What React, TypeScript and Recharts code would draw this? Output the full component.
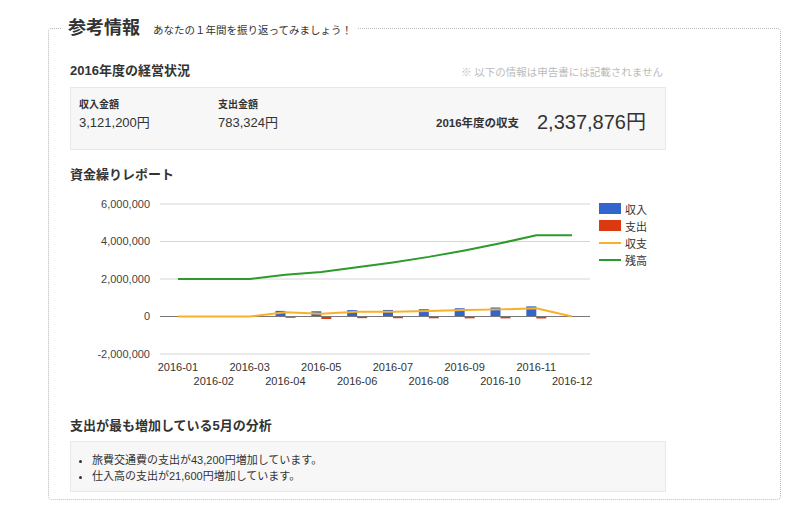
import React from 'react';
import { ComposedChart, Bar, Line, XAxis, YAxis, CartesianGrid, ReferenceLine, Legend } from 'recharts';

const months = ['2016-01', '2016-02', '2016-03', '2016-04', '2016-05', '2016-06', '2016-07', '2016-08', '2016-09', '2016-10', '2016-11', '2016-12'];
const income = [0, 0, 0, 300000, 280000, 340000, 350000, 390000, 440000, 480000, 541200, 0];
const expense = [0, 0, 0, 70000, 134800, 88000, 92000, 95000, 98000, 100000, 105524, 0];
const net = [0, 0, 0, 230000, 145200, 252000, 258000, 295000, 342000, 380000, 435676, 0];
const balance = [2000000, 2000000, 2000000, 2230000, 2375200, 2627200, 2885200, 3180200, 3522200, 3902200, 4337876, 4337876];
const yTicks = [-2000000, 0, 2000000, 4000000, 6000000];
const legendOrder = ['収入', '支出', '収支', '残高'];

const data = months.map((m, i) => ({
  month: m,
  income: income[i],
  expense: -expense[i],
  net: net[i],
  balance: balance[i],
}));

const FONT = '"Liberation Sans", "Noto Sans CJK JP", sans-serif';

const MonthTick = (props: any) => {
  const { x, y, payload, index } = props;
  return (
    <text x={x} y={y} dy={index % 2 ? 31 : 17} textAnchor="middle" fontSize={11} fill="#333">
      {payload.value}
    </text>
  );
};

const ChartLegend = (props: any) => {
  const items = [...(props.payload || [])].sort(
    (a: any, b: any) => legendOrder.indexOf(a.value) - legendOrder.indexOf(b.value)
  );
  return (
    <div style={{ fontSize: 11, color: '#333' }}>
      {items.map((it: any) => (
        <div key={it.value} style={{ display: 'flex', alignItems: 'center', height: 17 }}>
          {it.type === 'rect' ? (
            <span style={{ display: 'inline-block', width: 22, height: 11, background: it.color }} />
          ) : (
            <span style={{ display: 'inline-block', width: 22, height: 2, background: it.color }} />
          )}
          <span style={{ marginLeft: 4 }}>{it.value}</span>
        </div>
      ))}
    </div>
  );
};

const heading: React.CSSProperties = { position: 'absolute', fontSize: 13, fontWeight: 'bold', color: '#333', lineHeight: '16px' };

export default function App() {
  return (
    <div style={{ position: 'absolute', left: 0, top: 0, width: 800, height: 522, background: '#fff', fontFamily: FONT, color: '#333' }}>
      <div style={{ position: 'absolute', left: 48, top: 28, width: 731, height: 470, border: '1px dotted #bbb', borderRadius: 4 }} />
      <div style={{ position: 'absolute', left: 62, top: 16, padding: '0 6px', background: '#fff', whiteSpace: 'nowrap', lineHeight: '24px' }}>
        <span style={{ fontSize: 18, fontWeight: 'bold', color: '#333' }}>参考情報</span>
        <span style={{ fontSize: 10.5, marginLeft: 13, color: '#333' }}>あなたの１年間を振り返ってみましょう！</span>
      </div>

      <div style={{ ...heading, left: 70, top: 63 }}>2016年度の経営状況</div>
      <div style={{ position: 'absolute', right: 137, top: 64, fontSize: 10.5, color: '#bbb', lineHeight: '16px' }}>※ 以下の情報は申告書には記載されません</div>

      <div style={{ position: 'absolute', left: 70, top: 87, width: 594, height: 61, background: '#f7f7f7', border: '1px solid #e8e8e8' }} />
      <div style={{ position: 'absolute', left: 79, top: 98, fontSize: 10, fontWeight: 'bold', lineHeight: '14px' }}>収入金額</div>
      <div style={{ position: 'absolute', left: 79, top: 115, fontSize: 13, lineHeight: '16px' }}>3,121,200円</div>
      <div style={{ position: 'absolute', left: 218, top: 98, fontSize: 10, fontWeight: 'bold', lineHeight: '14px' }}>支出金額</div>
      <div style={{ position: 'absolute', left: 218, top: 115, fontSize: 13, lineHeight: '16px' }}>783,324円</div>
      <div style={{ position: 'absolute', left: 436, top: 115, fontSize: 11.5, fontWeight: 'bold', lineHeight: '16px' }}>2016年度の収支</div>
      <div style={{ position: 'absolute', left: 537, top: 109, fontSize: 20, lineHeight: '26px' }}>2,337,876円</div>

      <div style={{ ...heading, left: 70, top: 167 }}>資金繰りレポート</div>

      <div style={{ position: 'absolute', left: 60, top: 190 }}>
        <ComposedChart
          width={630}
          height={210}
          data={data}
          margin={{ top: 14, right: 10, bottom: 0, left: 0 }}
          barGap={0}
        >
          <CartesianGrid vertical={false} stroke="#d6d6d6" />
          <XAxis dataKey="month" interval={0} height={46} tickLine={false} axisLine={false} tickSize={0} tickMargin={0} tick={<MonthTick />} />
          <YAxis
            width={100}
            domain={[-2000000, 6000000]}
            ticks={yTicks}
            tickLine={false}
            axisLine={false}
            tickMargin={4}
            tick={{ fontSize: 11, fill: '#444' }}
            tickFormatter={(v: number) => v.toLocaleString('en-US')}
          />
          <ReferenceLine y={0} stroke="#777" />
          <Legend layout="vertical" verticalAlign="top" align="right" width={90} wrapperStyle={{ top: 10, left: 539, width: 90 }} content={<ChartLegend />} />
          <Bar dataKey="income" name="収入" fill="#3366cc" barSize={10} isAnimationActive={false} />
          <Bar dataKey="expense" name="支出" fill="#dc3912" barSize={10} isAnimationActive={false} />
          <Line dataKey="net" name="収支" type="linear" stroke="#f7b02a" strokeWidth={2} dot={false} isAnimationActive={false} />
          <Line dataKey="balance" name="残高" type="linear" stroke="#2c9a2c" strokeWidth={2} dot={false} isAnimationActive={false} />
        </ComposedChart>
      </div>

      <div style={{ ...heading, left: 70, top: 418 }}>支出が最も増加している5月の分析</div>
      <div style={{ position: 'absolute', left: 70, top: 441, width: 594, height: 49, background: '#f7f7f7', border: '1px solid #e8e8e8' }} />
      <ul style={{ position: 'absolute', left: 70, top: 452, margin: 0, paddingLeft: 22, fontSize: 11, lineHeight: '16px' }}>
        <li>旅費交通費の支出が43,200円増加しています。</li>
        <li>仕入高の支出が21,600円増加しています。</li>
      </ul>
    </div>
  );
}
